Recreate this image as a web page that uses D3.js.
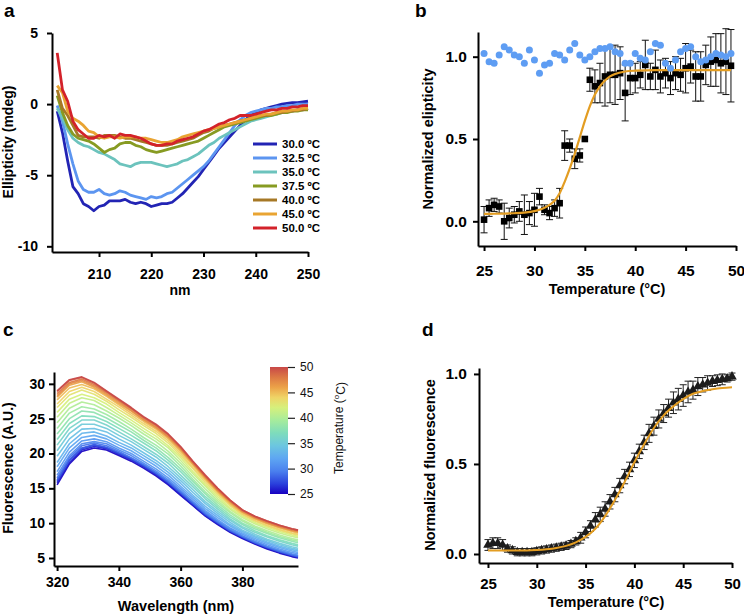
<!DOCTYPE html>
<html><head><meta charset="utf-8">
<script src="https://cdn.jsdelivr.net/npm/d3@7"></script>
<style>
body{margin:0;background:#fff;}
svg{display:block;background:#fff;}
</style></head><body>
<svg id="chart" width="744" height="614"></svg>
<script>
// ================= DATA =================
// Panel a: CD spectra (mdeg) vs wavelength (nm)
const cdWavelength = [202,203,204,205,206,207,208,209,210,211,212,213,214,215,216,217,218,219,220,221,222,223,224,225,226,227,228,229,230,231,232,233,234,235,236,237,238,239,240,241,242,243,244,245,246,247,248,249,250];
const cd300 = [-0.5,-2.0,-4.0,-5.8,-6.3,-7.0,-7.2,-7.5,-7.2,-7.1,-6.8,-6.8,-6.8,-6.7,-6.9,-7.0,-6.9,-7.0,-7.2,-7.1,-7.0,-7.0,-6.9,-6.6,-6.3,-5.9,-5.5,-5.1,-4.6,-4.1,-3.6,-3.1,-2.7,-2.3,-1.9,-1.5,-1.1,-0.8,-0.6,-0.4,-0.3,-0.2,-0.1,0.0,0.05,0.1,0.1,0.15,0.2];
const cd325 = [-0.1,-1.2,-2.8,-4.2,-5.4,-6.0,-6.2,-6.2,-6.0,-6.3,-6.4,-6.3,-6.1,-6.2,-6.4,-6.5,-6.6,-6.7,-6.5,-6.6,-6.5,-6.3,-6.2,-5.9,-5.6,-5.3,-5.0,-4.7,-4.4,-4.0,-3.5,-3.0,-2.5,-2.0,-1.5,-1.1,-0.8,-0.6,-0.5,-0.4,-0.3,-0.3,-0.2,-0.2,-0.1,-0.1,0.0,0.0,0.0];
const cd350 = [-0.3,-1.0,-1.8,-2.4,-2.7,-2.9,-3.0,-3.2,-3.4,-3.5,-3.7,-3.9,-4.2,-4.3,-4.4,-4.2,-4.1,-4.1,-4.1,-4.2,-4.3,-4.4,-4.3,-4.2,-4.0,-3.9,-3.7,-3.5,-3.2,-2.9,-2.7,-2.4,-2.2,-2.0,-1.8,-1.6,-1.4,-1.2,-1.1,-1.0,-0.9,-0.8,-0.7,-0.6,-0.5,-0.5,-0.4,-0.4,-0.3];
const cd375 = [0.6,-0.6,-1.5,-2.1,-2.4,-2.5,-2.6,-2.8,-3.1,-3.4,-3.2,-3.1,-2.8,-2.7,-2.7,-2.9,-3.0,-3.2,-3.3,-3.4,-3.3,-3.2,-3.1,-3.0,-2.9,-2.8,-2.7,-2.6,-2.4,-2.2,-2.0,-1.8,-1.6,-1.5,-1.4,-1.3,-1.2,-1.1,-1.0,-0.9,-0.8,-0.8,-0.7,-0.6,-0.6,-0.5,-0.5,-0.4,-0.4];
const cd400 = [1.0,-0.3,-0.8,-1.5,-2.2,-2.3,-2.3,-2.3,-2.4,-2.2,-2.2,-2.2,-2.3,-2.4,-2.4,-2.5,-2.6,-2.7,-2.8,-2.9,-2.9,-2.9,-2.8,-2.7,-2.6,-2.5,-2.4,-2.2,-2.0,-1.9,-1.7,-1.6,-1.5,-1.4,-1.3,-1.2,-1.1,-1.0,-0.9,-0.8,-0.8,-0.7,-0.6,-0.6,-0.5,-0.5,-0.4,-0.4,-0.3];
const cd450 = [1.3,0.8,-0.5,-1.0,-1.2,-1.5,-1.9,-2.0,-2.3,-2.4,-2.3,-2.3,-2.4,-2.3,-2.3,-2.3,-2.4,-2.4,-2.5,-2.6,-2.7,-2.7,-2.6,-2.5,-2.3,-2.2,-2.1,-2.0,-1.9,-1.8,-1.7,-1.6,-1.5,-1.4,-1.3,-1.2,-1.1,-1.0,-0.9,-0.8,-0.7,-0.7,-0.6,-0.5,-0.5,-0.4,-0.4,-0.3,-0.3];
const cd500 = [3.6,1.0,0.2,-1.2,-1.8,-2.1,-2.4,-2.4,-2.2,-2.3,-2.2,-2.4,-2.1,-2.2,-2.2,-2.3,-2.4,-2.6,-2.8,-2.9,-2.9,-2.8,-2.8,-2.6,-2.5,-2.4,-2.3,-2.1,-1.9,-1.8,-1.6,-1.4,-1.3,-1.1,-1.0,-0.8,-0.8,-0.8,-0.7,-0.6,-0.5,-0.4,-0.4,-0.3,-0.3,-0.2,-0.2,-0.1,-0.1];
const cdLabels = ["30.0 ºC","32.5 ºC","35.0 ºC","37.5 ºC","40.0 ºC","45.0 ºC","50.0 ºC"];
const cdColors = ["#2224b4","#5c95f0","#6cc3bd","#879b22","#a67826","#e9a432","#d3222a"];
const aXTicks = [210,220,230,240,250];
const aYTicks = [5,0,-5,-10];

// Panel b: normalized ellipticity vs temperature
const bTemps = [25,25.5,26,26.5,27,27.5,28,28.5,29,29.5,30,30.5,31,31.5,32,32.5,33,33.5,34,34.5,35,35.5,36,36.5,37,37.5,38,38.5,39,39.5,40,40.5,41,41.5,42,42.5,43,43.5,44,44.5,45,45.5,46,46.5,47,47.5,48,48.5,49,49.5];
const bSample = [0.01,0.08,0.10,0.09,0.00,0.02,0.04,0.06,0.04,0.05,0.07,0.15,0.07,0.05,0.08,0.11,0.46,0.46,0.38,0.40,0.50,0.86,0.82,0.84,0.88,0.89,0.89,0.90,0.78,0.87,0.87,0.89,0.95,0.88,0.92,0.88,0.90,0.87,0.90,0.89,0.93,0.94,0.88,0.88,0.95,0.97,0.98,0.96,0.97,0.945];
const bSampleErr = [0.08,0.05,0.04,0.04,0.11,0.06,0.05,0.06,0.12,0.07,0.10,0.05,0.03,0.04,0.05,0.09,0.09,0.04,0.06,0.04,0.0,0.07,0.10,0.12,0.18,0.17,0.18,0.16,0.17,0.10,0.09,0.08,0.15,0.08,0.12,0.10,0.09,0.10,0.10,0.10,0.15,0.10,0.15,0.15,0.12,0.15,0.16,0.18,0.20,0.22];
const bControl = [1.02,0.97,0.96,1.01,1.06,1.04,1.01,1.00,0.96,1.04,0.98,0.90,0.95,0.96,1.02,1.01,0.98,1.04,1.08,1.01,0.98,1.00,1.03,1.05,1.05,1.06,1.03,1.02,0.96,0.96,1.02,0.99,0.98,1.03,1.08,1.07,0.96,0.93,0.98,1.03,1.05,1.06,1.00,0.97,0.98,1.00,1.02,1.01,1.00,1.02];
const bFitT = [25,26,27,28,29,30,30.5,31,31.5,32,32.5,33,33.5,34,34.5,35,35.5,36,36.5,37,37.5,38,39,40,42,44,46,48,49.5];
const bFitV = [0.045,0.046,0.047,0.049,0.053,0.062,0.07,0.082,0.10,0.125,0.17,0.24,0.32,0.41,0.51,0.61,0.70,0.77,0.82,0.855,0.88,0.895,0.91,0.915,0.918,0.918,0.918,0.918,0.918];
const bXTicks = [25,30,35,40,45,50];
const bYTicks = [0,0.5,1.0];

// Panel c: fluorescence spectra, one row per temperature
const fWavelength = [320,324,328,332,336,340,344,348,352,356,360,364,368,372,376,380,384,388,392,396,398];
const fTemps = [25,26,27,28,29,30,31,32,33,34,35,36,37,38,39,40,41,42,43,44,45,46,47,48,49,50];
const fSpectra = [
 [15.5,18.5,20.3,20.8,20.5,19.7,18.9,17.9,16.8,15.5,14.0,12.5,11.0,9.8,8.7,7.8,7.0,6.3,5.7,5.2,5.0],
 [15.8,18.7,20.5,21.0,20.7,19.9,19.1,18.1,17.0,15.6,14.1,12.6,11.1,9.9,8.8,7.9,7.1,6.4,5.8,5.3,5.1],
 [16.0,19.0,20.7,21.2,20.8,20.0,19.2,18.2,17.1,15.8,14.3,12.8,11.2,10.0,8.9,8.0,7.2,6.5,5.9,5.4,5.2],
 [16.2,19.1,20.8,21.3,20.9,20.1,19.3,18.3,17.2,15.9,14.4,12.8,11.3,10.1,8.9,8.0,7.2,6.5,5.9,5.4,5.2],
 [16.5,19.4,21.1,21.5,21.1,20.3,19.4,18.4,17.3,16.0,14.5,13.0,11.4,10.2,9.0,8.1,7.3,6.6,6.0,5.5,5.3],
 [16.9,19.7,21.4,21.7,21.4,20.5,19.7,18.6,17.5,16.2,14.7,13.1,11.6,10.3,9.2,8.2,7.4,6.7,6.1,5.6,5.4],
 [17.4,20.2,21.8,22.1,21.7,20.8,20.0,18.9,17.8,16.5,15.0,13.4,11.8,10.5,9.3,8.4,7.6,6.9,6.3,5.8,5.6],
 [18.1,20.8,22.3,22.6,22.1,21.2,20.4,19.3,18.2,16.9,15.3,13.7,12.1,10.8,9.6,8.6,7.8,7.1,6.5,6.0,5.8],
 [18.7,21.4,22.9,23.1,22.5,21.6,20.8,19.7,18.6,17.3,15.7,14.0,12.4,11.1,9.8,8.8,8.0,7.3,6.7,6.2,6.0],
 [19.6,22.1,23.5,23.6,23.1,22.1,21.2,20.1,19.0,17.7,16.1,14.4,12.8,11.4,10.1,9.0,8.2,7.5,6.9,6.4,6.2],
 [20.4,22.9,24.2,24.2,23.6,22.6,21.7,20.6,19.5,18.1,16.5,14.8,13.1,11.7,10.4,9.3,8.4,7.7,7.1,6.6,6.4],
 [21.2,23.6,24.8,24.8,24.1,23.1,22.1,21.0,19.9,18.6,16.9,15.2,13.5,12.0,10.6,9.5,8.7,8.0,7.4,6.9,6.7],
 [22.0,24.3,25.4,25.3,24.6,23.6,22.6,21.5,20.4,19.0,17.4,15.6,13.8,12.3,10.9,9.8,8.9,8.2,7.6,7.1,6.9],
 [22.8,25.0,26.1,25.9,25.1,24.1,23.1,21.9,20.8,19.4,17.8,16.0,14.2,12.6,11.2,10.0,9.2,8.5,7.9,7.4,7.2],
 [23.6,25.8,26.7,26.4,25.6,24.6,23.5,22.3,21.2,19.9,18.2,16.3,14.5,12.9,11.5,10.3,9.4,8.7,8.1,7.6,7.4],
 [24.4,26.5,27.4,27.0,26.1,25.1,24.0,22.8,21.7,20.3,18.6,16.7,14.9,13.2,11.7,10.5,9.6,8.9,8.3,7.8,7.6],
 [25.2,27.2,28.0,27.6,26.6,25.5,24.4,23.2,22.1,20.8,19.0,17.1,15.3,13.5,12.0,10.8,9.9,9.2,8.6,8.1,7.9],
 [25.9,27.8,28.5,28.0,27.1,25.9,24.8,23.6,22.5,21.1,19.4,17.4,15.5,13.8,12.2,11.0,10.1,9.4,8.8,8.3,8.1],
 [26.6,28.4,29.1,28.5,27.5,26.3,25.2,24.0,22.9,21.5,19.7,17.8,15.8,14.1,12.5,11.2,10.3,9.6,9.0,8.5,8.3],
 [27.1,28.9,29.5,28.9,27.8,26.7,25.5,24.3,23.2,21.8,20.0,18.0,16.1,14.3,12.7,11.3,10.4,9.7,9.1,8.6,8.4],
 [27.7,29.4,29.9,29.3,28.2,27.0,25.8,24.6,23.5,22.1,20.3,18.3,16.3,14.5,12.8,11.5,10.6,9.9,9.3,8.8,8.6],
 [28.1,29.8,30.3,29.5,28.4,27.2,26.1,24.8,23.7,22.3,20.5,18.5,16.5,14.6,13.0,11.6,10.7,10.0,9.4,8.9,8.7],
 [28.3,30.0,30.5,29.7,28.6,27.4,26.2,24.9,23.8,22.4,20.7,18.6,16.6,14.7,13.1,11.7,10.8,10.1,9.5,9.0,8.8],
 [28.6,30.2,30.7,29.9,28.8,27.6,26.4,25.1,24.0,22.6,20.8,18.7,16.7,14.8,13.2,11.8,10.9,10.2,9.6,9.1,8.9],
 [28.9,30.5,30.9,30.1,28.9,27.7,26.5,25.2,24.1,22.7,20.9,18.8,16.8,15.0,13.3,11.9,11.0,10.3,9.7,9.2,9.0],
 [29.0,30.6,31.0,30.2,29.0,27.8,26.6,25.3,24.2,22.8,21.0,18.9,16.9,15.0,13.3,11.9,11.0,10.3,9.7,9.2,9.0]
];
const cXTicks = [320,340,360,380];
const cYTicks = [5,10,15,20,25,30];
const cbTicks = [25,30,35,40,45,50];
const cbStopT = [25,27,29.5,32,34.5,37,39.5,42,44,46,48,50];
const cbStopColor = ["#1800c0","#2a40dc","#4a80ee","#5ea6f2","#6cc6e0","#7edcbc","#a6ec9c","#d6f07c","#efd466","#eca248","#dc7844","#c84848"];

// Panel d: normalized fluorescence vs temperature
const dTemps = [25,25.5,26,26.5,27,27.5,28,28.5,29,29.5,30,30.5,31,31.5,32,32.5,33,33.5,34,34.5,35,35.5,36,36.5,37,37.5,38,38.5,39,39.5,40,40.5,41,41.5,42,42.5,43,43.5,44,44.5,45,45.5,46,46.5,47,47.5,48,48.5,49,49.5,50];
const dValues = [0.05,0.06,0.06,0.05,0.03,0.02,0.01,0.01,0.01,0.01,0.015,0.02,0.025,0.03,0.035,0.04,0.045,0.055,0.07,0.09,0.12,0.155,0.19,0.22,0.25,0.29,0.33,0.38,0.43,0.47,0.52,0.57,0.62,0.67,0.71,0.75,0.78,0.81,0.84,0.86,0.88,0.90,0.91,0.93,0.94,0.95,0.96,0.965,0.97,0.975,0.985];
const dErr = [0.03,0.03,0.03,0.03,0.02,0.02,0.02,0.02,0.02,0.02,0.02,0.02,0.02,0.02,0.02,0.02,0.02,0.02,0.02,0.03,0.03,0.03,0.04,0.04,0.04,0.04,0.04,0.04,0.04,0.04,0.04,0.04,0.04,0.05,0.05,0.05,0.05,0.05,0.06,0.06,0.06,0.06,0.05,0.05,0.04,0.04,0.03,0.03,0.03,0.02,0.02];
const dFitT = [25,26,27,28,29,30,31,32,33,34,35,36,37,38,39,40,41,42,43,44,45,46,47,48,49,50];
const dFitV = [0.02,0.02,0.02,0.02,0.02,0.022,0.026,0.033,0.045,0.065,0.095,0.14,0.21,0.30,0.40,0.51,0.61,0.70,0.77,0.82,0.86,0.89,0.905,0.915,0.922,0.926];
const dXTicks = [25,30,35,40,45,50];
const dYTicks = [0,0.5,1.0];

// ================= DRAWING =================
const FONT = '"Liberation Sans", Arial, Helvetica, sans-serif';
const ORANGE = "#e39d22";
const svg = d3.select("#chart");

function styleAxis(g, fs) {
  g.select(".domain").attr("stroke", "#000").attr("stroke-width", 2);
  g.selectAll(".tick line").attr("stroke", "#000").attr("stroke-width", 2);
  g.selectAll(".tick text").attr("fill", "#000")
    .style("font-family", FONT).style("font-weight", "bold").style("font-size", fs + "px");
}
function label(txt, x, y, fs, opts = {}) {
  const t = svg.append("text").attr("x", x).attr("y", y).text(txt)
    .style("font-family", FONT).style("font-weight", opts.weight || "bold")
    .style("font-size", fs + "px").attr("fill", "#000")
    .attr("text-anchor", opts.anchor || "middle");
  if (opts.rotate) t.attr("transform", `rotate(-90,${x},${y})`);
  return t;
}

// ---------- Panel a ----------
{
  const x = d3.scaleLinear().domain([201, 250]).range([52, 308]);
  const y = d3.scaleLinear().domain([-10.4, 5]).range([252, 33]);
  const series = [cd300, cd325, cd350, cd375, cd400, cd450, cd500];
  const line = d3.line().x((d, i) => x(cdWavelength[i])).y(d => y(d));
  svg.append("g").selectAll("path").data(series).join("path")
    .attr("d", line).attr("fill", "none")
    .attr("stroke", (d, i) => cdColors[i]).attr("stroke-width", 2.8)
    .attr("stroke-linejoin", "round");
  const gx = svg.append("g").attr("transform", "translate(0,252)")
    .call(d3.axisBottom(x).tickValues(aXTicks).tickSize(5).tickPadding(12).tickSizeOuter(0));
  styleAxis(gx, 14);
  const gy = svg.append("g").attr("transform", "translate(52,0)")
    .call(d3.axisLeft(y).tickValues(aYTicks).tickSize(5).tickPadding(9).tickSizeOuter(0).tickFormat(d => String(d)));
  styleAxis(gy, 14);
  // legend
  const lg = svg.append("g");
  cdLabels.forEach((lab, i) => {
    const cy = 144 + i * 14;
    lg.append("line").attr("x1", 253).attr("x2", 277).attr("y1", cy).attr("y2", cy)
      .attr("stroke", cdColors[i]).attr("stroke-width", 3);
    lg.append("text").attr("x", 282).attr("y", cy + 4).text(lab)
      .style("font-family", FONT).style("font-weight", "bold").style("font-size", "11.5px");
  });
  label("a", 4, 17, 19, {anchor: "start"});
  label("nm", 180, 295, 14);
  label("Ellipticity (mdeg)", 13, 142, 14, {rotate: true});
}

// ---------- Panel b ----------
{
  const x = d3.scaleLinear().domain([24.4, 50]).range([478, 736]);
  const y = d3.scaleLinear().domain([-0.15, 1.15]).range([246, 32]);
  const g = svg.append("g");
  bTemps.forEach((t, i) => {
    const e = bSampleErr[i];
    if (e <= 0) return;
    const cx = x(t), y1 = y(bSample[i] - e), y2 = y(bSample[i] + e);
    g.append("line").attr("x1", cx).attr("x2", cx).attr("y1", y1).attr("y2", y2).attr("stroke", "#111").attr("stroke-width", 1);
    g.append("line").attr("x1", cx - 3.5).attr("x2", cx + 3.5).attr("y1", y1).attr("y2", y1).attr("stroke", "#111").attr("stroke-width", 1);
    g.append("line").attr("x1", cx - 3.5).attr("x2", cx + 3.5).attr("y1", y2).attr("y2", y2).attr("stroke", "#111").attr("stroke-width", 1);
  });
  g.selectAll("rect.sq").data(bSample).join("rect").attr("class", "sq")
    .attr("x", (d, i) => x(bTemps[i]) - 3.3).attr("y", d => y(d) - 3.3)
    .attr("width", 6.6).attr("height", 6.6).attr("fill", "#000");
  g.append("path").datum(bFitV)
    .attr("d", d3.line().x((d, i) => x(bFitT[i])).y(d => y(d)).curve(d3.curveMonotoneX))
    .attr("fill", "none").attr("stroke", ORANGE).attr("stroke-width", 2.2);
  g.selectAll("circle.ctl").data(bControl).join("circle").attr("class", "ctl")
    .attr("cx", (d, i) => x(bTemps[i])).attr("cy", d => y(d)).attr("r", 3.5)
    .attr("fill", "#5e9df3");
  const gx = svg.append("g").attr("transform", "translate(0,246)")
    .call(d3.axisBottom(x).tickValues(bXTicks).tickSize(5).tickPadding(14).tickSizeOuter(0));
  styleAxis(gx, 15.5);
  const gy = svg.append("g").attr("transform", "translate(478,0)")
    .call(d3.axisLeft(y).tickValues(bYTicks).tickSize(5).tickPadding(6).tickSizeOuter(0).tickFormat(d3.format(".1f")));
  styleAxis(gy, 15.5);
  label("b", 415, 17, 19, {anchor: "start"});
  label("Temperature (°C)", 607, 294, 14.5);
  label("Normalized elipticity", 433, 139, 14.5, {rotate: true});
}

// ---------- Panel c ----------
{
  const x = d3.scaleLinear().domain([319, 398]).range([54, 298]);
  const y = d3.scaleLinear().domain([3.85, 31.7]).range([566, 372]);
  const cmap = d3.scaleLinear().domain(cbStopT).range(cbStopColor).interpolate(d3.interpolateRgb);
  const line = d3.line().x((d, i) => x(fWavelength[i])).y(d => y(d));
  svg.append("g").selectAll("path").data(fSpectra).join("path")
    .attr("d", line).attr("fill", "none")
    .attr("stroke", (d, i) => cmap(fTemps[i])).attr("stroke-width", 1.6)
    .attr("stroke-opacity", 0.92).attr("stroke-linejoin", "round");
  const gx = svg.append("g").attr("transform", "translate(0,566)")
    .call(d3.axisBottom(x).tickValues(cXTicks).tickSize(5).tickPadding(6).tickSizeOuter(0));
  styleAxis(gx, 14);
  const gy = svg.append("g").attr("transform", "translate(54,0)")
    .call(d3.axisLeft(y).tickValues(cYTicks).tickSize(5).tickPadding(4).tickSizeOuter(0));
  styleAxis(gy, 14);
  // colour bar
  const cb = d3.scaleLinear().domain([25, 50]).range([494, 367]);
  const grad = svg.append("defs").append("linearGradient").attr("id", "cbgrad")
    .attr("x1", 0).attr("y1", 1).attr("x2", 0).attr("y2", 0);
  cbStopT.forEach((t, i) => grad.append("stop").attr("offset", (t - 25) / 25).attr("stop-color", cbStopColor[i]));
  svg.append("rect").attr("x", 270).attr("y", cb(50)).attr("width", 18).attr("height", cb(25) - cb(50))
    .attr("fill", "url(#cbgrad)");
  const gcb = svg.append("g").attr("transform", "translate(288,0)")
    .call(d3.axisRight(cb).tickValues(cbTicks).tickSize(7).tickPadding(5).tickSizeOuter(0));
  gcb.select(".domain").remove();
  gcb.selectAll(".tick line").attr("stroke", "#222").attr("stroke-width", 1.2);
  gcb.selectAll(".tick text").attr("fill", "#111").style("font-family", FONT).style("font-size", "12px");
  const tt = svg.append("text").attr("transform", "translate(343,428) rotate(-90)")
    .attr("text-anchor", "middle").style("font-family", FONT).style("font-size", "12px").attr("fill", "#111");
  tt.append("tspan").text("Temperature (");
  tt.append("tspan").text("o").attr("dy", "-0.45em").style("font-size", "8px");
  tt.append("tspan").text("C)").attr("dy", "0.45em");
  label("c", 3, 336, 19, {anchor: "start"});
  label("Wavelength (nm)", 176, 611, 14.5);
  label("Fluorescence (A.U.)", 13, 468, 14, {rotate: true});
}

// ---------- Panel d ----------
{
  const x = d3.scaleLinear().domain([24.08, 50]).range([479, 732]);
  const y = d3.scaleLinear().domain([-0.05, 1.033]).range([563, 368]);
  const g = svg.append("g");
  dTemps.forEach((t, i) => {
    const e = dErr[i];
    const cx = x(t), y1 = y(dValues[i] - e), y2 = y(dValues[i] + e);
    g.append("line").attr("x1", cx).attr("x2", cx).attr("y1", y1).attr("y2", y2).attr("stroke", "#222").attr("stroke-width", 1);
    g.append("line").attr("x1", cx - 3.5).attr("x2", cx + 3.5).attr("y1", y1).attr("y2", y1).attr("stroke", "#222").attr("stroke-width", 1);
    g.append("line").attr("x1", cx - 3.5).attr("x2", cx + 3.5).attr("y1", y2).attr("y2", y2).attr("stroke", "#222").attr("stroke-width", 1);
  });
  g.selectAll("path.tri").data(dValues).join("path").attr("class", "tri")
    .attr("d", d3.symbol(d3.symbolTriangle).size(40))
    .attr("transform", (d, i) => `translate(${x(dTemps[i])},${y(d)})`)
    .attr("fill", "#1c1c1c");
  g.append("path").datum(dFitV)
    .attr("d", d3.line().x((d, i) => x(dFitT[i])).y(d => y(d)).curve(d3.curveMonotoneX))
    .attr("fill", "none").attr("stroke", ORANGE).attr("stroke-width", 2);
  const gx = svg.append("g").attr("transform", "translate(0,563)")
    .call(d3.axisBottom(x).tickValues(dXTicks).tickSize(5).tickPadding(10).tickSizeOuter(0));
  styleAxis(gx, 15);
  const gy = svg.append("g").attr("transform", "translate(479,0)")
    .call(d3.axisLeft(y).tickValues(dYTicks).tickSize(5).tickPadding(7).tickSizeOuter(0).tickFormat(d3.format(".1f")));
  styleAxis(gy, 15.5);
  label("d", 422, 336, 19, {anchor: "start"});
  label("Temperature (°C)", 606, 607, 14.5);
  label("Normalized fluorescence", 435, 465, 14.5, {rotate: true});
}
</script>
</body></html>
